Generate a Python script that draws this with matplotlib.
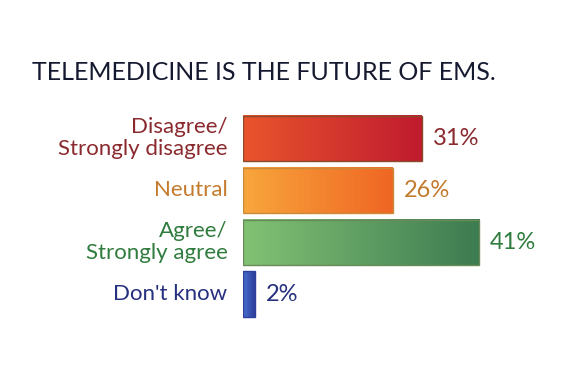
import matplotlib
matplotlib.use("Agg")
import matplotlib.pyplot as plt
import numpy as np
from matplotlib.colors import LinearSegmentedColormap

# data
categories = ["Disagree/\nStrongly disagree", "Neutral", "Agree/\nStrongly agree", "Don't know"]
values = [31, 26, 41, 2]
value_labels = ["31%", "26%", "41%", "2%"]

# gradient start/end for each bar, and text colour
grad_start = ["#e9552c", "#f8a63c", "#82c274", "#4a6fd0"]
grad_end = ["#c01b2f", "#ef6624", "#3d7b51", "#2c3f9a"]
edge_cols = ["#8a4a2a", "#c98a3a", "#6a8a5a", "#2c3f9a"]
text_cols = ["#8a2a2e", "#c47a2c", "#2f7c3e", "#25307e"]

plt.rcParams['font.family'] = ['Lato', 'DejaVu Sans']

fig = plt.figure(figsize=(5.72, 3.81), dpi=100)
ax = fig.add_axes([243 / 572, 1 - 320 / 381, 1 - 243 / 572, 207.5 / 381])

h = 0.87
grad = np.linspace(0, 1, 256).reshape(1, -1)
for i, v in enumerate(values):
    cm = LinearSegmentedColormap.from_list("g%d" % i, [grad_start[i], grad_end[i]])
    ax.imshow(grad, cmap=cm, extent=[0, v, i + h / 2, i - h / 2], aspect="auto", zorder=2)
    ax.barh(i, v, height=h, fill=False, edgecolor=edge_cols[i], linewidth=1.0, zorder=3)
    ax.text(v + 1.9, i, value_labels[i], color=text_cols[i], fontsize=17,
            va="center", ha="left")
    ax.text(-2.7, i, categories[i], color=text_cols[i], fontsize=16,
            va="center", ha="right", linespacing=1.12, clip_on=False)

ax.set_xlim(0, 330 / (237 / 41))
ax.set_ylim(3.5, -0.5)
ax.axis("off")

fig.text(0.461, 1 - 73 / 381, "TELEMEDICINE IS THE FUTURE OF EMS.", color="#161a30",
         fontsize=18, ha="center", va="center")

fig.savefig("out.png", dpi=100)
